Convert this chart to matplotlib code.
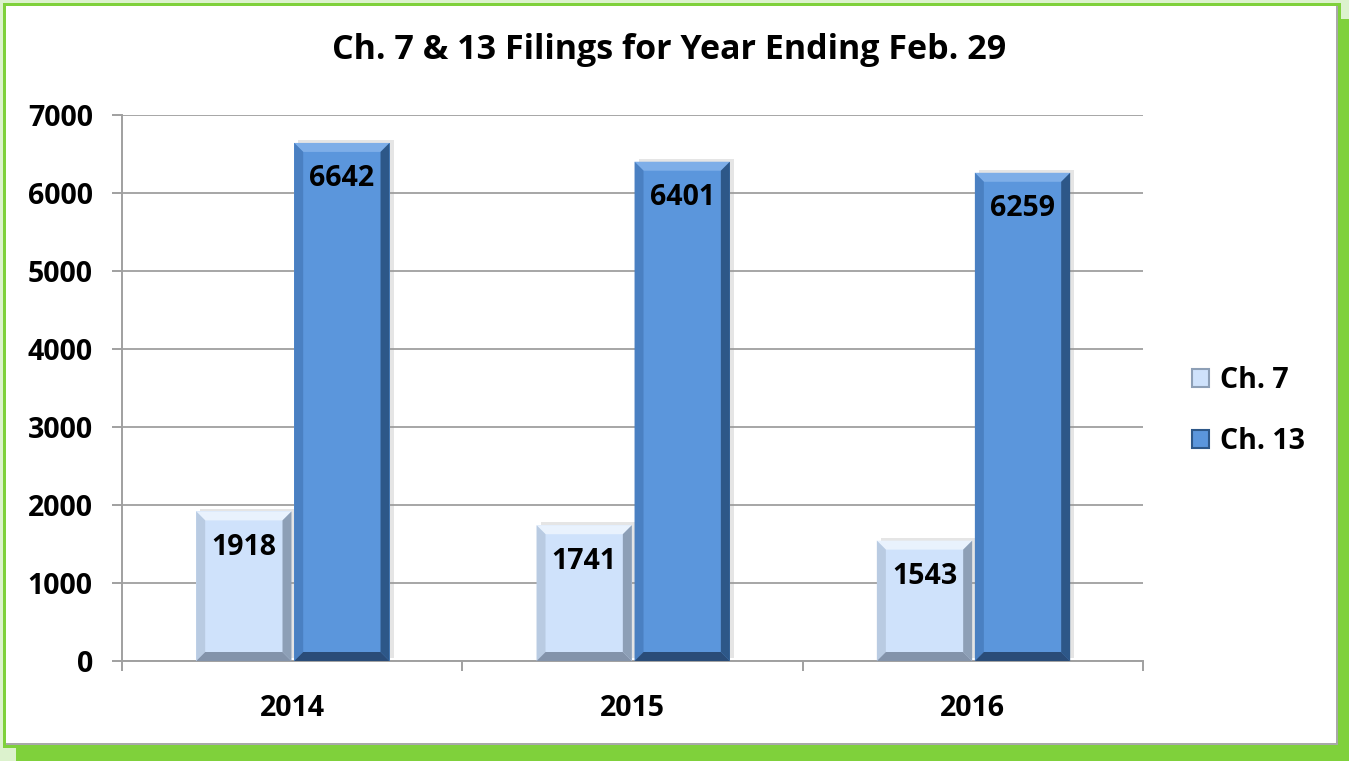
import numpy as np
import matplotlib
matplotlib.use("Agg")
import matplotlib.pyplot as plt
from matplotlib.patches import Rectangle, Polygon
import matplotlib.patheffects as pe

years = ["2014", "2015", "2016"]
ch7 = [1918, 1741, 1543]
ch13 = [6642, 6401, 6259]
series_names = ["Ch. 7", "Ch. 13"]
title = "Ch. 7 & 13 Filings for Year Ending Feb. 29"

W, H = 1349, 761
plt.rcParams['font.family'] = ['Open Sans', 'DejaVu Sans']
plt.rcParams['font.weight'] = 'bold'
FS = 20.5

fig = plt.figure(figsize=(W / 100, H / 100), dpi=100)
fig.patch.set_facecolor('#dcf2cd')

# frame: green drop shadow, white card with green border
def px_rect(x0, y0, x1, y1, **kw):
    r = Rectangle((x0 / W, 1 - y1 / H), (x1 - x0) / W, (y1 - y0) / H,
                  transform=fig.transFigure, zorder=-10, **kw)
    fig.patches.append(r)

px_rect(16, 19, W, H, facecolor='#7fd13b', edgecolor='none')
px_rect(3, 3, 1341, 748, facecolor='#7fd13b', edgecolor='none')
px_rect(6, 6, 1338, 745, facecolor='#a8a8a8', edgecolor='none')
px_rect(6, 6, 1336, 743, facecolor='white', edgecolor='none')

ax = fig.add_axes([122 / W, 1 - 661 / H, (1143 - 122) / W, (661 - 115) / H])
ax.set_facecolor('none')
ax.set_zorder(1)

x = np.arange(len(years))
bw = 0.28
ax.set_xlim(-0.5, len(years) - 0.5)
ax.set_ylim(0, 7000)

styles = [
    dict(face='#cfe2fb', top='#e9f2fd', left='#b9cbe2', right='#8d9fb6', bottom='#8393aa'),
    dict(face='#5b96dc', top='#7eaee8', left='#4a80c2', right='#2d5788', bottom='#2a4c78'),
]

shadow = [pe.SimplePatchShadow(offset=(3, 2), shadow_rgbFace='#999999', alpha=0.25), pe.Normal()]

def bevel(bar, st):
    # bevel width: ~9 px converted to data units
    bx = 9 / 341.0
    by = 9 / 546.0 * 7000
    x0, y0 = bar.get_x(), bar.get_y()
    x1, y1 = x0 + bar.get_width(), y0 + bar.get_height()
    polys = [
        ([(x0, y1), (x1, y1), (x1 - bx, y1 - by), (x0 + bx, y1 - by)], st['top']),
        ([(x0, y0), (x0, y1), (x0 + bx, y1 - by), (x0 + bx, y0 + by)], st['left']),
        ([(x1, y0), (x1, y1), (x1 - bx, y1 - by), (x1 - bx, y0 + by)], st['right']),
        ([(x0, y0), (x1, y0), (x1 - bx, y0 + by), (x0 + bx, y0 + by)], st['bottom']),
    ]
    for pts, c in polys:
        ax.add_patch(Polygon(pts, closed=True, facecolor=c, edgecolor='none', zorder=4))

for vals, off, st in [(ch7, -0.142, styles[0]), (ch13, 0.146, styles[1])]:
    bars = ax.bar(x + off, vals, width=bw, color=st['face'], edgecolor='none', zorder=3)
    for b, v in zip(bars, vals):
        b.set_path_effects(shadow)
        bevel(b, st)
        ax.annotate(str(v), (b.get_x() + b.get_width() / 2, v), xytext=(0, -36),
                    textcoords='offset pixels', ha='center', va='center',
                    fontsize=FS, fontweight='bold', color='black', zorder=6)

# grid and axes
ax.set_yticks(np.arange(0, 7001, 1000))
ax.yaxis.grid(True, color='#a6a6a6', linewidth=1.4, zorder=0)
ax.set_axisbelow(True)
for s in ['top', 'right']:
    ax.spines[s].set_visible(False)
for s in ['left', 'bottom']:
    ax.spines[s].set_color('#a0a0a0')
    ax.spines[s].set_linewidth(1.4)

ax.tick_params(axis='y', length=7, width=1.4, color='#a0a0a0', pad=14,
               labelsize=FS, labelcolor='black')
ax.set_xticks(x)
ax.set_xticklabels(years, fontsize=FS, fontweight='bold')
ax.tick_params(axis='x', which='major', length=0, pad=24, labelcolor='black')
ax.set_xticks(np.arange(-0.5, len(years)), minor=True)
ax.tick_params(axis='x', which='minor', length=7, width=1.4, color='#a0a0a0')
for lab in ax.get_yticklabels():
    lab.set_fontweight('bold')

handles = [Rectangle((0, 0), 1, 1, facecolor=styles[i]['face'],
                     edgecolor=styles[i]['right'], linewidth=1.5) for i in range(2)]
leg = fig.legend(handles, series_names, loc='center left',
                 bbox_to_anchor=(1166 / W, 1 - 411 / H), frameon=False,
                 handlelength=0.6, handleheight=0.6, handletextpad=0.4,
                 labelspacing=1.1, prop=dict(size=FS, weight='bold'))

fig.text(669 / W, 1 - 50 / H, title, ha='center', va='center',
         fontsize=24.5, fontweight='bold', color='black')

fig.savefig('out.png', dpi=100, facecolor=fig.get_facecolor())
